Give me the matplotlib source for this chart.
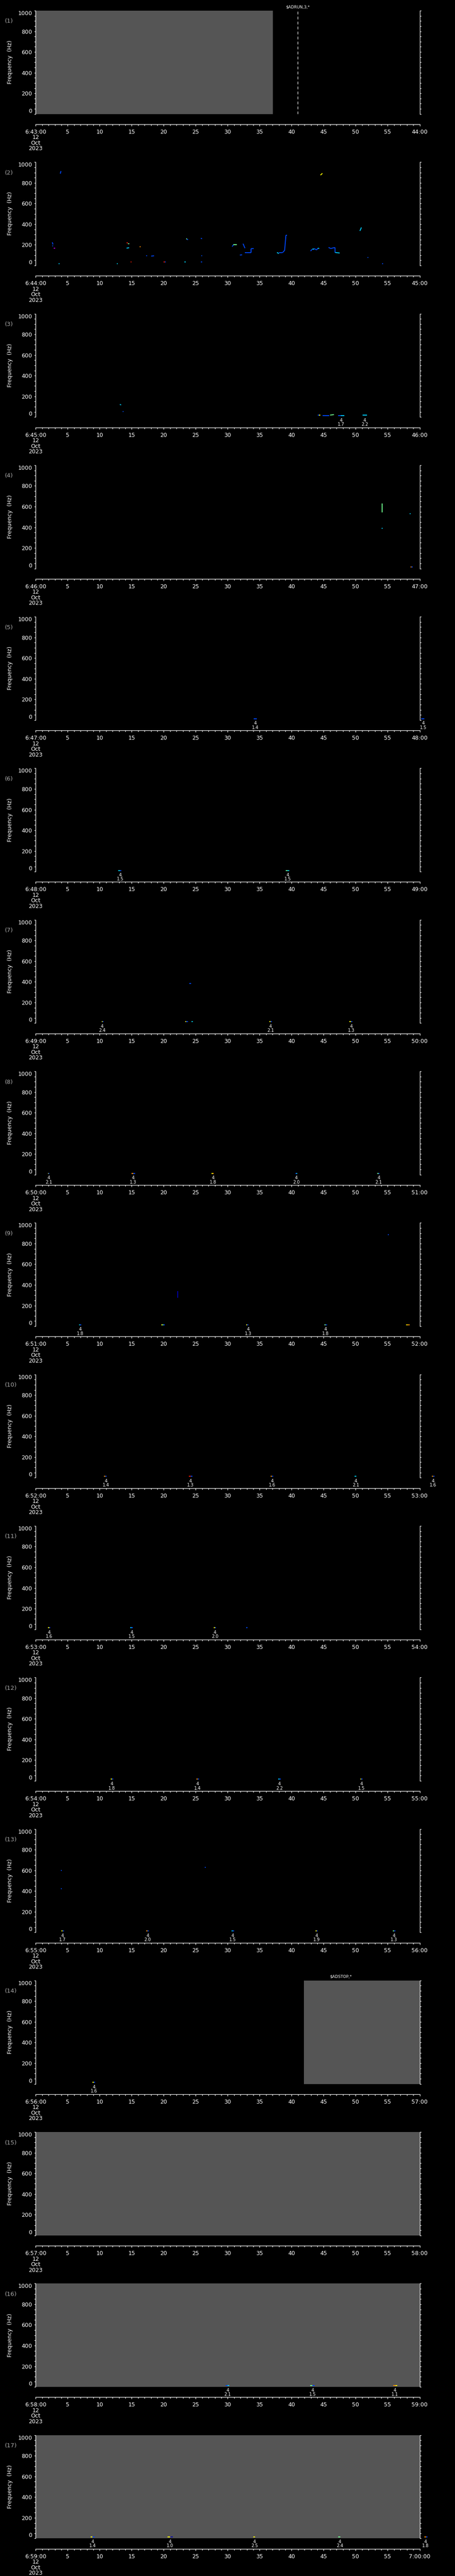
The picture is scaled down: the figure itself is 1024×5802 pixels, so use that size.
import matplotlib
matplotlib.use('Agg')
import matplotlib.pyplot as plt
from matplotlib.ticker import MultipleLocator, FixedLocator

# ---------------- data ----------------
panel_minutes = list(range(43, 60))  # start minute of each panel (6:MM:00)
freq_ticks = [0, 200, 400, 600, 800, 1000]
sec_ticks = [0, 5, 10, 15, 20, 25, 30, 35, 40, 45, 50, 55, 60]

# spectrogram traces: (t0 s, t1 s, f0 Hz, f1 Hz, colour code)
seg_p01 = []
seg_p02 = [
    (2.60, 2.70, 225, 204, 'b'), (2.60, 2.70, 193, 187, 'b'), (2.85, 3.00, 168, 168, 'm'),
    (3.85, 3.95, 889, 914, 'b'), (3.60, 3.75, 18, 18, 'c'), (12.65, 12.80, 18, 18, 'c'),
    (14.20, 14.40, 221, 218, 'r'), (14.40, 14.60, 212, 212, 'g'), (14.20, 14.60, 168, 172, 'c'),
    (14.85, 15.00, 36, 36, 'r'), (16.25, 16.40, 180, 183, 'o'), (17.25, 17.40, 96, 96, 'b'),
    (18.05, 18.50, 91, 94, 'b'), (20.00, 20.15, 36, 36, 'r'), (20.15, 20.30, 36, 36, 'b'),
    (23.25, 23.45, 36, 36, 'c'), (23.50, 23.65, 258, 258, 'g'), (23.65, 23.80, 256, 248, 'b'),
    (25.80, 26.00, 262, 260, 'b'), (25.85, 26.00, 96, 96, 'b'), (25.80, 26.00, 36, 36, 'b'),
    (30.70, 30.90, 183, 200, 'b'), (30.90, 31.40, 200, 200, 'g'), (31.90, 32.25, 101, 103, 'b'),
    (32.40, 32.70, 211, 168, 'b'), (32.70, 33.65, 126, 126, 'b'), (33.65, 33.65, 126, 164, 'b'),
    (33.65, 34.10, 164, 164, 'b'), (37.70, 38.00, 126, 116, 'c'), (38.00, 38.60, 126, 126, 'b'),
    (38.60, 38.90, 126, 147, 'b'), (38.90, 39.10, 147, 292, 'b'), (39.10, 39.30, 292, 292, 'b'),
    (42.95, 43.20, 140, 157, 'b'), (43.20, 43.50, 157, 157, 'c'), (43.50, 43.90, 164, 151, 'b'),
    (43.90, 44.10, 151, 168, 'b'), (44.10, 44.30, 168, 164, 'c'), (44.50, 44.80, 875, 892, 'y'),
    (45.76, 46.12, 175, 164, 'b'), (46.12, 46.49, 164, 171, 'b'), (46.49, 46.80, 171, 173, 'b'),
    (46.80, 46.80, 173, 126, 'b'), (46.80, 47.50, 126, 121, 'c'), (50.66, 50.90, 335, 368, 'c'),
    (51.85, 52.00, 78, 78, 'b'), (54.15, 54.30, 18, 18, 'b'),
]
seg_p03 = [
    (13.15, 13.35, 121, 118, 'c'), (13.60, 13.70, 52, 52, 'b'), (44.10, 44.30, 19, 19, 'b'),
    (44.30, 44.50, 19, 19, 'y'), (44.80, 45.90, 14, 14, 'b'), (46.00, 46.60, 19, 23, 'g'),
    (47.25, 47.70, 14, 14, 'b'), (47.70, 48.20, 14, 14, 'c'), (51.10, 51.80, 19, 19, 'c'),
]
seg_p04 = [
    (54.10, 54.10, 544, 628, 'g'), (54.05, 54.20, 390, 390, 'c'), (58.45, 58.60, 532, 532, 'c'),
    (58.60, 58.75, 14, 14, 'o'), (58.75, 58.90, 14, 14, 'b'),
]
seg_p05 = [(34.10, 34.56, 11, 11, 'b'), (60.27, 60.70, 11, 11, 'b')]
seg_p06 = [(12.90, 13.15, 11, 11, 'c'), (13.15, 13.40, 11, 11, 'b'),
           (39.10, 39.35, 11, 11, 'g'), (39.35, 39.60, 11, 11, 'c')]
seg_p07 = [
    (10.30, 10.45, 16, 16, 'y'), (10.45, 10.60, 16, 16, 'b'), (23.35, 23.55, 16, 16, 'y'),
    (23.55, 23.80, 16, 16, 'b'), (24.35, 24.55, 16, 16, 'c'), (24.00, 24.30, 385, 385, 'b'),
    (36.50, 36.70, 16, 16, 'y'), (36.70, 36.90, 16, 16, 'b'), (49.00, 49.25, 16, 16, 'y'),
    (49.25, 49.50, 16, 16, 'b'),
]
seg_p08 = [
    (1.90, 2.00, 12, 12, 'y'), (2.00, 2.10, 12, 12, 'b'), (15.00, 15.25, 12, 12, 'o'),
    (15.25, 15.50, 12, 12, 'b'), (27.50, 27.65, 12, 12, 'y'), (27.65, 27.80, 12, 12, 'o'),
    (40.60, 40.75, 12, 12, 'b'), (40.75, 40.90, 12, 12, 'c'), (53.40, 53.55, 12, 12, 'g'),
    (53.55, 53.70, 12, 12, 'b'),
]
seg_p09 = [
    (6.76, 6.95, 12, 12, 'c'), (6.95, 7.12, 12, 12, 'b'), (19.60, 19.80, 15, 15, 'y'),
    (19.80, 20.00, 12, 12, 'g'), (20.00, 20.20, 12, 12, 'b'), (22.20, 22.20, 338, 275, 'd'),
    (32.90, 33.05, 12, 12, 'y'), (33.05, 33.25, 12, 12, 'b'), (45.10, 45.30, 12, 12, 'g'),
    (45.30, 45.50, 12, 12, 'b'), (55.05, 55.20, 884, 884, 'b'), (57.90, 58.10, 14, 14, 'y'),
    (58.10, 58.45, 12, 12, 'o'),
]
seg_p10 = [
    (10.66, 10.90, 16, 16, 'o'), (10.90, 11.10, 16, 16, 'b'), (23.90, 24.20, 16, 16, 'r'),
    (24.20, 24.50, 16, 16, 'b'), (36.70, 36.90, 16, 16, 'o'), (36.90, 37.10, 16, 16, 'b'),
    (49.80, 50.10, 16, 16, 'c'), (61.90, 62.10, 16, 16, 'o'), (62.10, 62.35, 16, 16, 'b'),
]
seg_p11 = [
    (1.90, 2.10, 15, 15, 'y'), (2.10, 2.30, 15, 15, 'b'), (14.80, 15.00, 15, 15, 'c'),
    (15.00, 15.20, 15, 15, 'b'), (27.80, 28.00, 15, 15, 'y'), (28.00, 28.20, 15, 15, 'b'),
    (32.90, 33.10, 15, 15, 'b'),
]
seg_p12 = [
    (11.70, 11.90, 15, 15, 'y'), (11.90, 12.10, 15, 15, 'b'), (25.10, 25.30, 15, 15, 'o'),
    (25.30, 25.50, 15, 15, 'b'), (37.90, 38.10, 15, 15, 'c'), (38.10, 38.30, 15, 15, 'b'),
    (50.70, 50.90, 15, 15, 'y'), (50.90, 51.10, 15, 15, 'b'),
]
seg_p13 = [
    (4.00, 4.20, 15, 15, 'y'), (4.20, 4.40, 15, 15, 'b'), (3.95, 4.10, 600, 600, 'b'),
    (3.95, 4.10, 420, 420, 'b'), (26.40, 26.55, 630, 630, 'b'),
    (17.30, 17.50, 15, 15, 'o'), (17.50, 17.70, 15, 15, 'b'), (30.60, 30.80, 15, 15, 'c'),
    (30.80, 31.00, 15, 15, 'b'), (43.70, 43.90, 15, 15, 'y'), (43.90, 44.10, 15, 15, 'b'),
    (55.80, 56.00, 15, 15, 'g'), (56.00, 56.20, 15, 15, 'b'),
]
seg_p14 = [(8.90, 9.10, 15, 15, 'y'), (9.10, 9.30, 15, 15, 'b')]
seg_p15 = []
seg_p16 = [
    (29.70, 30.00, 15, 15, 'b'), (30.00, 30.25, 15, 15, 'c'), (42.90, 43.25, 15, 15, 'g'),
    (43.25, 43.60, 15, 15, 'b'), (55.90, 56.20, 15, 15, 'o'), (56.20, 56.50, 15, 15, 'y'),
]
seg_p17 = [
    (8.60, 8.90, 15, 15, 'y'), (8.90, 9.20, 15, 15, 'b'), (20.60, 21.00, 15, 15, 'y'),
    (21.00, 21.40, 15, 15, 'd'), (34.00, 34.30, 15, 15, 'y'), (47.25, 47.60, 15, 15, 'g'),
    (60.70, 61.00, 15, 15, 'o'), (61.00, 61.20, 15, 15, 'b'),
]

# event annotations under the spectrogram ("4" over value)
lab_t_p03 = [47.75, 51.4];                    lab_v_p03 = ['1.7', '2.2']
lab_t_p05 = [34.33, 60.54];                   lab_v_p05 = ['1.4', '1.5']
lab_t_p06 = [13.2, 39.4];                     lab_v_p06 = ['1.5', '1.5']
lab_t_p07 = [10.4, 36.7, 49.3];               lab_v_p07 = ['2.4', '2.1', '1.3']
lab_t_p08 = [2.04, 15.24, 27.7, 40.7, 53.6];  lab_v_p08 = ['2.1', '1.3', '1.8', '2.0', '2.1']
lab_t_p09 = [6.98, 33.2, 45.3];               lab_v_p09 = ['1.8', '1.3', '1.8']
lab_t_p10 = [10.97, 24.2, 36.96, 50.0, 62.1]; lab_v_p10 = ['1.4', '1.3', '1.6', '2.1', '1.6']
lab_t_p11 = [2.1, 15.0, 28.0];                lab_v_p11 = ['1.6', '1.5', '2.0']
lab_t_p12 = [11.9, 25.3, 38.1, 50.9];         lab_v_p12 = ['1.8', '1.4', '2.2', '1.5']
lab_t_p13 = [4.2, 17.5, 30.8, 43.9, 56.0];    lab_v_p13 = ['1.7', '2.0', '1.5', '1.9', '1.3']
lab_t_p14 = [9.1];                            lab_v_p14 = ['1.6']
lab_t_p16 = [30.0, 43.3, 56.1];               lab_v_p16 = ['2.1', '1.5', '1.1']
lab_t_p17 = [8.9, 21.0, 34.2, 47.5, 60.9];    lab_v_p17 = ['1.4', '1.0', '2.5', '2.4', '1.8']
lab_code = '4'

# no-data (grey) intervals, seconds
gray_p01 = (0.0, 37.05)
gray_p14 = (41.9, 60.0)
gray_p15 = (0.0, 60.0)
gray_p16 = (0.0, 60.0)
gray_p17 = (0.0, 60.0)

# command markers: (time s, text, draw dashed line)
marker_p01 = (40.95, r'\$ADRUN,3,*', True)
marker_p14 = (47.7, r'\$ADSTOP,*', False)

segments = [seg_p01, seg_p02, seg_p03, seg_p04, seg_p05, seg_p06, seg_p07, seg_p08, seg_p09,
            seg_p10, seg_p11, seg_p12, seg_p13, seg_p14, seg_p15, seg_p16, seg_p17]
labels = {3: (lab_t_p03, lab_v_p03), 5: (lab_t_p05, lab_v_p05), 6: (lab_t_p06, lab_v_p06),
          7: (lab_t_p07, lab_v_p07), 8: (lab_t_p08, lab_v_p08), 9: (lab_t_p09, lab_v_p09),
          10: (lab_t_p10, lab_v_p10), 11: (lab_t_p11, lab_v_p11), 12: (lab_t_p12, lab_v_p12),
          13: (lab_t_p13, lab_v_p13), 14: (lab_t_p14, lab_v_p14), 16: (lab_t_p16, lab_v_p16),
          17: (lab_t_p17, lab_v_p17)}
grays = {1: gray_p01, 14: gray_p14, 15: gray_p15, 16: gray_p16, 17: gray_p17}
markers = {1: marker_p01, 14: marker_p14}

COL = {'d': '#0000b0', 'b': '#0048ff', 'c': '#00d0ff', 'g': '#70ff90',
       'y': '#ffff00', 'o': '#ff9000', 'r': '#ff1800', 'm': '#c000ff'}

# ---------------- layout ----------------
plt.rcParams['font.family'] = ['DejaVu Sans']
W, H = 1024, 5802
fig = plt.figure(figsize=(W / 100, H / 100), dpi=100, facecolor='black')
PITCH = H / 17.0
LX, RX = 80.3, 944.5


def px_axes(x0, y0, x1, y1):
    return fig.add_axes([x0 / W, 1 - y1 / H, (x1 - x0) / W, (y1 - y0) / H])


for i in range(17):
    n = i + 1
    p0 = i * PITCH
    ax = px_axes(LX, p0 + 24, RX, p0 + 256.7)
    ax.set_facecolor('black')
    ax.set_xlim(0, 60)
    ax.set_ylim(0, 1000)
    for s in ['top', 'bottom']:
        ax.spines[s].set_visible(False)
    for s in ['left', 'right']:
        ax.spines[s].set_color('white')
        ax.spines[s].set_linewidth(0.9)
    ax.set_xticks([])
    ax.yaxis.set_major_locator(FixedLocator(freq_ticks))
    ax.yaxis.set_minor_locator(MultipleLocator(50))
    ax.set_yticks(freq_ticks)
    ax.set_yticklabels([str(v) for v in freq_ticks])
    ax.tick_params(axis='y', which='both', direction='out', left=True, right=True,
                   labelleft=True, labelright=False, colors='white', length=2.4,
                   width=0.9, labelsize=9, pad=3.5)
    yl = ax.get_yticklabels()
    yl[0].set_verticalalignment('bottom')
    yl[-1].set_verticalalignment('top')

    if n in grays:
        g0, g1 = grays[n]
        ax.axvspan(g0, g1, color='#555555', lw=0, zorder=0.5)

    for (t0, t1, f0, f1, c) in segments[i]:
        ax.plot([t0, t1], [f0, f1], color=COL[c], lw=1.4, solid_capstyle='butt',
                clip_on=False, zorder=3)

    if n in labels:
        ts, vs = labels[n]
        for t, v in zip(ts, vs):
            ax.text(t, -32, lab_code, ha='center', va='center', fontsize=7,
                    color='white', clip_on=False)
            ax.text(t, -72, v, ha='center', va='center', fontsize=7,
                    color='white', clip_on=False)

    if n in markers:
        tm, txt, dashed = markers[n]
        if dashed:
            ax.axvline(tm, color='white', lw=0.9, dashes=(5, 4), zorder=4)
        ax.text(tm, 1036, txt, ha='center', va='center', fontsize=6.5,
                color='white', clip_on=False)

    fig.text(23 / W, 1 - (p0 + 140) / H, 'Frequency  (Hz)', rotation=90,
             ha='center', va='center', color='white', fontsize=9)
    fig.text(11 / W, 1 - (p0 + 48) / H, '(%d)' % n, ha='left', va='center',
             color='#a8a8a8', fontsize=9.5)

    # time axis
    tax = px_axes(LX, p0 + 279, RX, p0 + 280)
    tax.patch.set_visible(False)
    for s in ['top', 'left', 'right']:
        tax.spines[s].set_visible(False)
    tax.spines['bottom'].set_color('white')
    tax.spines['bottom'].set_linewidth(0.9)
    tax.set_xlim(0, 60)
    tax.set_yticks([])
    m = panel_minutes[i]
    end = '7:00:00' if m + 1 == 60 else '%d:00' % (m + 1)
    tlabels = ['6:%02d:00\n12\nOct\n2023' % m] + [str(s) for s in sec_ticks[1:-1]] + [end]
    tax.set_xticks(sec_ticks)
    tax.set_xticklabels(tlabels)
    tax.xaxis.set_minor_locator(MultipleLocator(1))
    tax.tick_params(axis='x', which='major', direction='out', length=2.9, width=0.9,
                    colors='white', labelsize=9, pad=5)
    tax.tick_params(axis='x', which='minor', direction='out', length=1.9, width=0.9,
                    colors='white')
    for lab in tax.get_xticklabels():
        lab.set_linespacing(0.95)

fig.savefig('out.png', dpi=100, facecolor='black')
